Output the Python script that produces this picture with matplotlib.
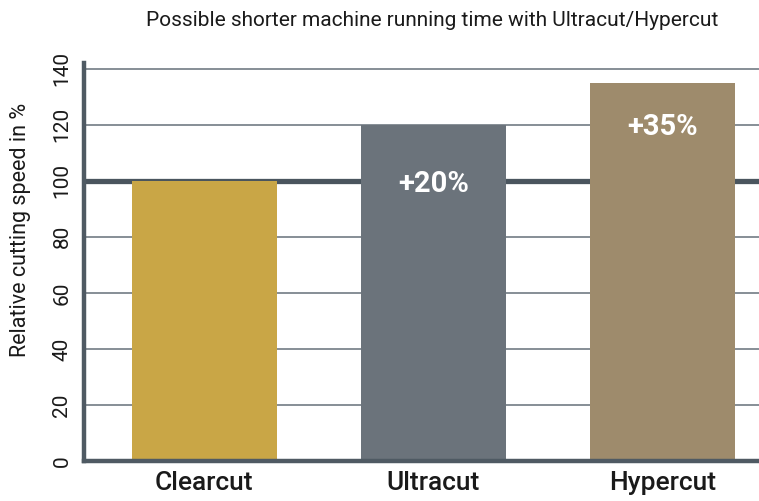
import matplotlib
matplotlib.use("Agg")
import matplotlib.pyplot as plt
from matplotlib import font_manager

categories = ["Clearcut", "Ultracut", "Hypercut"]
values = [100, 120, 135]
labels = ["", "+20%", "+35%"]
label_y = [0, 99, 119]
yticks = [0, 20, 40, 60, 80, 100, 120, 140]
colors = ["#C9A646", "#6B737B", "#9E8B6C"]

names = {f.name for f in font_manager.fontManager.ttflist}
fam = "Liberation Sans Narrow" if "Liberation Sans Narrow" in names else "Roboto"
plt.rcParams["font.family"] = [fam, "DejaVu Sans"]

fig = plt.figure(figsize=(7.59, 5.01), dpi=100)
ax = fig.add_axes([84/759, 40/501, 1 - 84/759, (461-63)/501])

x = list(range(len(categories)))
ax.bar(x, values, width=0.633, color=colors, zorder=4)
ax.set_xlim(-0.525, 2.42)
ax.set_ylim(0, 142)

for y in yticks:
    if y == 0:
        continue
    if y == 100:
        ax.axhline(y, color="#4A555E", lw=3.8, zorder=3)
    else:
        ax.axhline(y, color="#7D868D", lw=1.3, zorder=1)

for xi, ly, lab in zip(x, label_y, labels):
    if lab:
        ax.text(xi, ly, lab, ha="center", va="center",
                color="white", fontsize=21, fontweight="bold", zorder=6)

ax.set_yticks(yticks)
ax.set_yticklabels([str(t) for t in yticks], rotation=90, va="center",
                   fontsize=15, color="#1a1a1a")
ax.set_xticks(x)
ax.set_xticklabels(categories, fontsize=19, color="#1a1a1a", fontweight="medium")
ax.tick_params(axis="both", length=0)
ax.tick_params(axis="y", pad=9)
ax.tick_params(axis="x", pad=7)

for s in ["top", "right"]:
    ax.spines[s].set_visible(False)
for s in ["left", "bottom"]:
    ax.spines[s].set_color("#4F5A63")
    ax.spines[s].set_linewidth(3.2)
    ax.spines[s].set_zorder(5)
ax.spines["left"].set_bounds(0, 142)

ax.set_ylabel("Relative cutting speed in %", fontsize=15.5, color="#1a1a1a")
ax.yaxis.set_label_coords(-0.078, 0.58)
fig.text(432/759, 1 - 20/501, "Possible shorter machine running time with Ultracut/Hypercut",
         ha="center", va="center", fontsize=15, color="#1a1a1a")

fig.savefig("out.png", dpi=100)
